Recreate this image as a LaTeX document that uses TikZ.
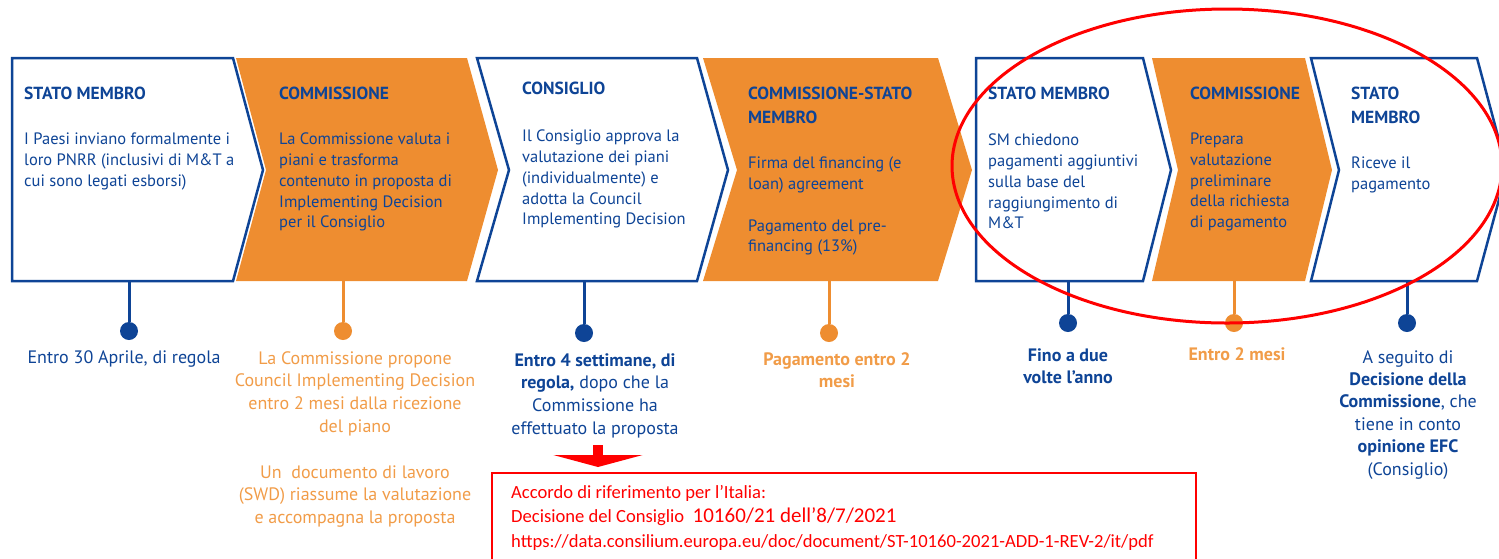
\documentclass[tikz,border=0pt]{standalone}
\usepackage{fontspec}
\setmainfont{PT Sans}
\newfontfamily\calibrifont{Carlito}
\usetikzlibrary{
    arrows.meta,   % For the red block arrow
    positioning,   % For relative placement of nodes
    calc           % For coordinate calculations
}

\definecolor{euBlue}{RGB}{14,68,150}
\definecolor{euOrange}{RGB}{238,141,48}
\definecolor{euOrangeText}{RGB}{241,156,72}
\definecolor{markRed}{RGB}{255,0,0}

\begin{document}
\begin{tikzpicture}[
    x=1pt, y=-1pt, % one unit = one pixel of the reference, y runs downwards
    font=\fontsize{16.5}{20.7}\selectfont,
    whiteStep/.style={draw=euBlue, line width=2.5pt, fill=white, line join=miter},
    orangeStep/.style={fill=euOrange},
    stepTitle/.style={anchor=north west, inner sep=0pt, align=left, text=euBlue, font=\fontsize{17.5}{24}\selectfont\bfseries},
    stepText/.style={anchor=north west, inner sep=0pt, align=left, text=euBlue},
    blueStem/.style={draw=euBlue, line width=3pt},
    orangeStem/.style={draw=euOrange, line width=3pt},
    blueDot/.style={circle, fill=euBlue, inner sep=0pt, minimum size=18pt},
    orangeDot/.style={circle, fill=euOrange, inner sep=0pt, minimum size=18pt},
    blueNote/.style={anchor=north, inner sep=0pt, align=center, text=euBlue, font=\fontsize{18}{22.8}\selectfont},
    orangeNote/.style={blueNote, text=euOrangeText},
    refArrow/.style={draw=markRed, line width=10pt, -{Triangle[length=12pt, width=89pt]}, shorten >=5pt}
]
    % Frame of the picture
    \useasboundingbox (0,0) rectangle (1499,558);
    \clip (0,0) rectangle (1499,558);

    % Heights of the steps
    \def\yTop{58}
    \def\yMid{170}
    \def\yBot{281}

    % The seven steps of the procedure
    \draw[whiteStep] (12,\yTop) -- (233,\yTop) -- (263,\yMid) -- (233,\yBot) -- (12,\yBot) -- cycle;
    \fill[orangeStep] (236,\yTop) -- (467,\yTop) -- (498,\yMid) -- (467,\yBot) -- (236,\yBot) -- (266,\yMid) -- cycle;
    \draw[whiteStep] (477,\yTop) -- (697,\yTop) -- (728,\yMid) -- (697,\yBot) -- (477,\yBot) -- (509,\yMid) -- cycle;
    \fill[orangeStep] (703,\yTop) -- (938,\yTop) -- (972,\yMid) -- (938,\yBot) -- (703,\yBot) -- (737,\yMid) -- cycle;
    \draw[whiteStep] (976,\yTop) -- (1143,\yTop) -- (1171,\yMid) -- (1143,\yBot) -- (976,\yBot) -- cycle;
    \fill[orangeStep] (1152,\yTop) -- (1305,\yTop) -- (1332,\yMid) -- (1305,\yBot) -- (1152,\yBot) -- (1178,\yMid) -- cycle;
    \draw[whiteStep] (1311,\yTop) -- (1477,\yTop) -- (1507,\yMid) -- (1477,\yBot) -- (1311,\yBot) -- (1339,\yMid) -- cycle;

    % Titles and texts inside the steps
    \node[stepTitle] (h1) at (24,87) {STATO MEMBRO};
    \node[stepText] (b1) at (24,133) {I Paesi inviano formalmente i\\loro PNRR (inclusivi di M\&T a\\cui sono legati esborsi)};
    \node[stepTitle] (h2) at (279,87) {COMMISSIONE};
    \node[stepText] (b2) at (279,133) {La Commissione valuta i\\piani e trasforma\\contenuto in proposta di\\Implementing Decision\\per il Consiglio};
    \node[stepTitle] (h3) at (522,82) {CONSIGLIO};
    \node[stepText] (b3) at (522,130) {Il Consiglio approva la\\valutazione dei piani\\(individualmente) e\\adotta la Council\\Implementing Decision};
    \node[stepTitle] (h4) at (748,87) {COMMISSIONE-STATO\\MEMBRO};
    \node[stepText] (b4) at (748,157) {Firma del financing (e\\loan) agreement\\[\baselineskip]Pagamento del pre-\\financing (13\%)};
    \node[stepTitle] (h5) at (988,87) {STATO MEMBRO};
    \node[stepText] (b5) at (988,134) {SM chiedono\\pagamenti aggiuntivi\\sulla base del\\raggiungimento di\\M\&T};
    \node[stepTitle] (h6) at (1190,87) {COMMISSIONE};
    \node[stepText] (b6) at (1190,133) {Prepara\\valutazione\\preliminare\\della richiesta\\di pagamento};
    \node[stepTitle] (h7) at (1351,87) {STATO\\MEMBRO};
    \node[stepText] (b7) at (1351,157) {Riceve il\\pagamento};

    % Stems and dots under the steps
    \coordinate (s1) at (129,\yBot);
    \coordinate (s2) at (343,\yBot);
    \coordinate (s3) at (584,\yBot);
    \coordinate (s4) at (829,\yBot);
    \coordinate (s5) at (1068,\yBot);
    \coordinate (s6) at (1234,\yBot);
    \coordinate (s7) at (1407,\yBot);
    \node[blueDot] (d1) at (129,331) {};
    \node[orangeDot] (d2) at (343,331) {};
    \node[blueDot] (d3) at (584,333) {};
    \node[orangeDot] (d4) at (829,333) {};
    \node[blueDot] (d5) at (1068,323) {};
    \node[orangeDot] (d6) at (1234,323) {};
    \node[blueDot] (d7) at (1407,323) {};
    \draw[blueStem] (s1) -- (d1);
    \draw[orangeStem] (s2) -- (d2);
    \draw[blueStem] (s3) -- (d3);
    \draw[orangeStem] (s4) -- (d4);
    \draw[blueStem] (s5) -- (d5);
    \draw[orangeStem] (s6) -- (d6);
    \draw[blueStem] (s7) -- (d7);

    % Timing notes
    \node[blueNote] (t1) at (124,350) {Entro 30 Aprile, di regola};
    \node[orangeNote] (t2) at (355,351) {La Commissione propone\\Council Implementing Decision\\entro 2 mesi dalla ricezione\\del piano\\[\baselineskip]Un\ \ documento di lavoro\\(SWD) riassume la valutazione\\e accompagna la proposta};
    \node[blueNote] (t3) at (595,353) {\textbf{Entro 4 settimane, di}\\\textbf{regola,} dopo che la\\Commissione ha\\effettuato la proposta};
    \node[orangeNote, font=\fontsize{18}{22.8}\selectfont\bfseries] (t4) at (837,352) {Pagamento entro 2\\mesi};
    \node[blueNote, font=\fontsize{18}{22.8}\selectfont\bfseries] (t5) at (1068,348) {Fino a due\\volte l’anno};
    \node[orangeNote, font=\fontsize{18}{22.8}\selectfont\bfseries] (t6) at (1237,347) {Entro 2 mesi};
    \node[blueNote, font=\fontsize{18}{22.4}\selectfont] (t7) at (1408,350) {A seguito di\\\textbf{Decisione della}\\\textbf{Commissione}, che\\tiene in conto\\\textbf{opinione EFC}\\(Consiglio)};

    % Reference box for Italy
    \node[draw=markRed, line width=1.5pt, minimum width=704pt, minimum height=110pt, anchor=north west, inner sep=0pt] (refBox) at (491,472) {};
    \node[anchor=north west, inner sep=0pt, align=left, text=markRed, font=\calibrifont\fontsize{18.6}{24.5}\selectfont] (refText) at (511,485)
        {Accordo di riferimento per l’Italia:\\Decisione del Consiglio\ \ {\fontsize{21}{24.5}\selectfont 10160/21 dell’8/7/2021}\\https://data.consilium.europa.eu/doc/document/ST-10160-2021-ADD-1-REV-2/it/pdf};
    \coordinate (arrowTop) at (598,445);
    \draw[refArrow] (arrowTop) -- (arrowTop |- refBox.north);

    % Red ellipse around the payment steps
    \draw[markRed, line width=3pt] (1227,166) ellipse (275 and 157);
\end{tikzpicture}
\end{document}
